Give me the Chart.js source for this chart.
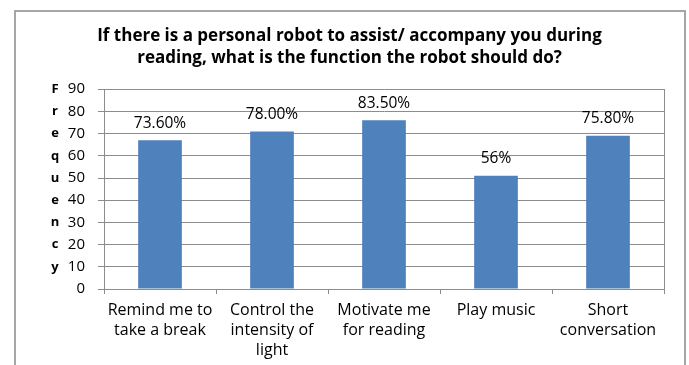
<!DOCTYPE html>
<html>
<head>
<meta charset="utf-8">
<script src="https://cdn.jsdelivr.net/npm/chart.js@4/dist/chart.umd.min.js"></script>
<style>
  html, body { margin: 0; padding: 0; background: #fff; }
  #wrap { position: relative; width: 689px; height: 365px; overflow: hidden; }
  #frame { position: absolute; left: 14px; top: 10px; width: 672px; height: 400px; border: 2px solid #a6a6a6; box-sizing: border-box; }
  canvas { position: absolute; left: 0; top: 0; }
</style>
</head>
<body>
<div id="wrap">
  <div id="frame"></div>
  <canvas id="c" width="689" height="365"></canvas>
</div>
<script>
const categories = [
  ["Remind me to", "take a break"],
  ["Control the", "intensity of", "light"],
  ["Motivate me", "for reading"],
  ["Play music"],
  ["Short", "conversation"]
];
const frequency = [67, 71, 76, 51, 69];
const percentLabels = ["73.60%", "78.00%", "83.50%", "56%", "75.80%"];
const yTicks = [0, 10, 20, 30, 40, 50, 60, 70, 80, 90];
const yTitleLetters = ["F", "r", "e", "q", "u", "e", "n", "c", "y"];
const titleLines = [
  "If there is a personal robot to assist/ accompany you during",
  "reading, what is the function the robot should do?"
];

const FONT = "'Open Sans', sans-serif";
const GRID = "#8c8c8c";

const extras = {
  id: "extras",
  afterDatasetsDraw(chart) {
    const ctx = chart.ctx;
    const meta = chart.getDatasetMeta(0);
    ctx.save();
    ctx.font = "15.5px " + FONT;
    ctx.fillStyle = "#000";
    ctx.textAlign = "center";
    ctx.textBaseline = "middle";
    meta.data.forEach((bar, i) => {
      ctx.fillText(percentLabels[i], bar.x, bar.y - 17);
    });
    const y = chart.scales.y;
    ctx.font = "bold 13px " + FONT;
    yTitleLetters.forEach((ch, i) => {
      const v = yTicks[yTicks.length - 1 - i];
      ctx.fillText(ch, 55, y.getPixelForValue(v));
    });
    ctx.restore();
  }
};

new Chart(document.getElementById("c"), {
  type: "bar",
  data: {
    labels: categories,
    datasets: [{
      data: frequency,
      backgroundColor: "#4F81BD",
      borderWidth: 0,
      categoryPercentage: 1,
      barPercentage: 0.39
    }]
  },
  options: {
    responsive: false,
    animation: false,
    devicePixelRatio: 1,
    layout: { padding: { left: 10, right: 0, top: 0, bottom: 0 } },
    plugins: {
      legend: { display: false },
      tooltip: { enabled: false },
      title: {
        display: true,
        text: titleLines,
        color: "#000",
        font: { family: FONT, size: 17, weight: "bold", lineHeight: 1.3 },
        padding: { top: 25, bottom: 20 }
      }
    },
    scales: {
      x: {
        grid: { display: true, drawOnChartArea: false, drawTicks: true, tickLength: 5, color: GRID, offset: true },
        border: { display: true, color: GRID, width: 1 },
        ticks: { color: "#000", font: { family: FONT, size: 16, lineHeight: 1.25 }, padding: 6, maxRotation: 0, autoSkip: false },
        afterFit(s) { s.height = 76; }
      },
      y: {
        min: 0, max: 90,
        afterBuildTicks(s) { s.ticks = yTicks.map(v => ({ value: v })); },
        grid: { color: GRID, lineWidth: 1, drawTicks: true, tickLength: 6 },
        border: { display: true, color: GRID, width: 1 },
        ticks: { color: "#000", font: { family: FONT, size: 15 }, padding: 13 },
        afterFit(s) { s.width = 94; }
      },
      y2: {
        position: "right",
        min: 0, max: 90,
        grid: { drawOnChartArea: false, drawTicks: false },
        border: { display: true, color: GRID, width: 1 },
        ticks: { display: false },
        afterFit(s) { s.width = 25; }
      }
    }
  },
  plugins: [extras]
});
</script>
</body>
</html>
